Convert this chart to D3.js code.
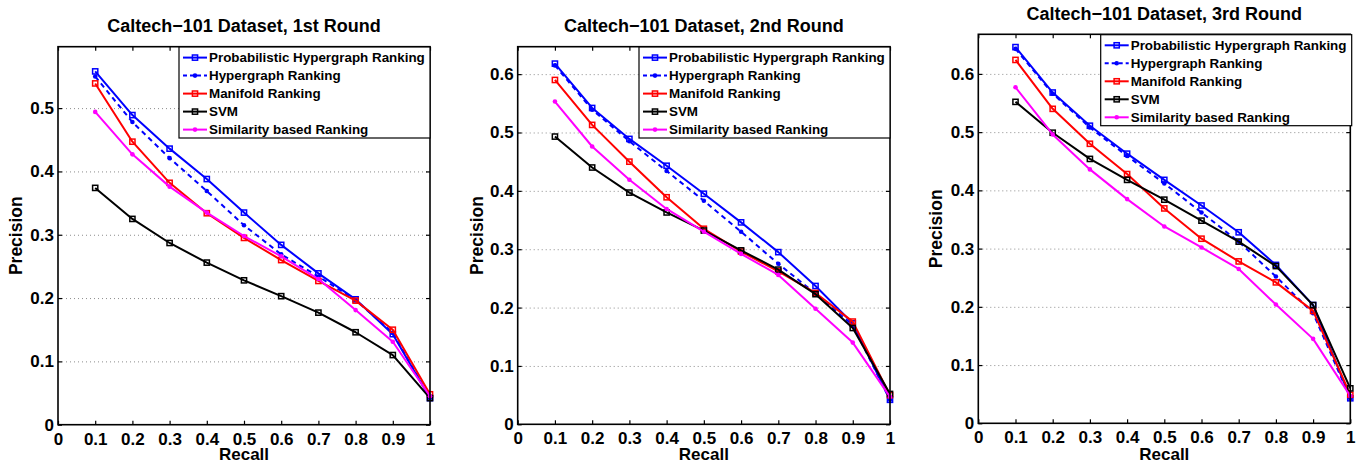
<!DOCTYPE html>
<html>
<head>
<meta charset="utf-8">
<script src="https://cdn.jsdelivr.net/npm/d3@7"></script>
<style>
  html, body { margin: 0; padding: 0; background: #fff; }
  svg { display: block; font-family: "Liberation Sans", Arial, Helvetica, sans-serif; font-weight: bold; }
</style>
</head>
<body>
<svg id="chart" width="1366" height="461"></svg>
<script>
const recall = [0.1, 0.2, 0.3, 0.4, 0.5, 0.6, 0.7, 0.8, 0.9, 1.0];
const methods = ["Probabilistic Hypergraph Ranking", "Hypergraph Ranking", "Manifold Ranking", "SVM", "Similarity based Ranking"];
const titles = ["Caltech\u2212101 Dataset, 1st Round", "Caltech\u2212101 Dataset, 2nd Round", "Caltech\u2212101 Dataset, 3rd Round"];
const xTicks = [0, 0.1, 0.2, 0.3, 0.4, 0.5, 0.6, 0.7, 0.8, 0.9, 1];
const yTicks1 = [0, 0.1, 0.2, 0.3, 0.4, 0.5];
const yTicks23 = [0, 0.1, 0.2, 0.3, 0.4, 0.5, 0.6];
const yMax = [0.597, 0.647, 0.668];

// round 1
const phr1 = [0.558, 0.489, 0.436, 0.388, 0.335, 0.284, 0.239, 0.198, 0.143, 0.042];
const hr1 = [0.550, 0.478, 0.421, 0.369, 0.315, 0.269, 0.234, 0.197, 0.145, 0.042];
const mr1 = [0.539, 0.447, 0.382, 0.334, 0.295, 0.260, 0.227, 0.196, 0.150, 0.048];
const svm1 = [0.374, 0.325, 0.287, 0.256, 0.228, 0.203, 0.177, 0.146, 0.110, 0.042];
const sbr1 = [0.494, 0.427, 0.376, 0.335, 0.298, 0.266, 0.230, 0.181, 0.131, 0.045];
// round 2
const phr2 = [0.618, 0.542, 0.489, 0.443, 0.395, 0.346, 0.295, 0.237, 0.173, 0.042];
const hr2 = [0.615, 0.539, 0.485, 0.434, 0.383, 0.330, 0.275, 0.224, 0.170, 0.042];
const mr2 = [0.590, 0.513, 0.450, 0.389, 0.335, 0.296, 0.262, 0.225, 0.176, 0.050];
const svm2 = [0.493, 0.440, 0.397, 0.363, 0.332, 0.298, 0.265, 0.223, 0.165, 0.052];
const sbr2 = [0.553, 0.476, 0.419, 0.369, 0.330, 0.292, 0.256, 0.198, 0.140, 0.047];
// round 3
const phr3 = [0.646, 0.568, 0.511, 0.463, 0.418, 0.374, 0.328, 0.272, 0.203, 0.043];
const hr3 = [0.643, 0.566, 0.508, 0.459, 0.412, 0.362, 0.312, 0.252, 0.189, 0.043];
const mr3 = [0.624, 0.540, 0.480, 0.428, 0.369, 0.317, 0.278, 0.242, 0.193, 0.049];
const svm3 = [0.552, 0.499, 0.454, 0.418, 0.384, 0.348, 0.312, 0.270, 0.203, 0.060];
const sbr3 = [0.577, 0.496, 0.436, 0.385, 0.338, 0.302, 0.265, 0.204, 0.145, 0.047];

const styles = [
  { color: "#0000ff", dash: null, marker: "square" },
  { color: "#0000ff", dash: "5,4", marker: "dot" },
  { color: "#ff0000", dash: null, marker: "square" },
  { color: "#000000", dash: null, marker: "square" },
  { color: "#ff00ff", dash: null, marker: "dot" },
];

// box = [left, top, right, bottom] in page pixels, labelX = centre of the "Precision" label
const panels = [
  { box: [58, 46.7, 430, 424.7], titleY: 32, labelX: 16, series: [phr1, hr1, mr1, svm1, sbr1], yTicks: yTicks1 },
  { box: [517.7, 46.7, 890, 424.3], titleY: 32, labelX: 477, series: [phr2, hr2, mr2, svm2, sbr2], yTicks: yTicks23 },
  { box: [978.3, 34.3, 1350.3, 423.3], titleY: 20, labelX: 936, series: [phr3, hr3, mr3, svm3, sbr3], yTicks: yTicks23 },
];

const svg = d3.select("#chart");
const fmt = (d) => (d === 0 ? "0" : d === 1 ? "1" : d3.format(".1f")(d));

function drawMarker(g, st, cx, cy) {
  if (st.marker === "square") {
    g.append("rect").attr("x", cx - 2.6).attr("y", cy - 2.6).attr("width", 5.2).attr("height", 5.2)
      .attr("fill", "none").attr("stroke", st.color).attr("stroke-width", 1.5);
  } else {
    g.append("circle").attr("cx", cx).attr("cy", cy).attr("r", 2.3).attr("fill", st.color);
  }
}

panels.forEach((p, pi) => {
  const [x0, y0, x1, y1] = p.box;
  const w = x1 - x0, h = y1 - y0;
  const x = d3.scaleLinear().domain([0, 1]).range([0, w]);
  const y = d3.scaleLinear().domain([0, yMax[pi]]).range([h, 0]);
  const g = svg.append("g").attr("transform", `translate(${x0},${y0})`);

  // dotted y grid
  g.append("g").call(d3.axisLeft(y).tickValues(p.yTicks.filter((d) => d > 0)).tickSize(-w).tickFormat(""))
    .call((s) => s.select(".domain").remove())
    .call((s) => s.selectAll("line").attr("stroke", "#8c8c8c").attr("stroke-width", 1).attr("stroke-dasharray", "1,3"));

  // series
  const line = d3.line().x((d, i) => x(recall[i])).y((d) => y(d));
  p.series.forEach((vals, si) => {
    const st = styles[si];
    const sg = g.append("g");
    sg.append("path").datum(vals).attr("d", line).attr("fill", "none")
      .attr("stroke", st.color).attr("stroke-width", 2)
      .attr("stroke-dasharray", st.dash).attr("stroke-linejoin", "round");
    vals.forEach((v, i) => drawMarker(sg, st, x(recall[i]), y(v)));
  });

  // axes with inward ticks
  const axStyle = (s) => {
    s.select(".domain").remove();
    s.selectAll("line").attr("stroke", "#000").attr("stroke-width", 1.2);
    s.selectAll("text").attr("font-size", 17).attr("font-weight", "bold").attr("fill", "#000")
      .attr("font-family", "'Liberation Sans', Arial, sans-serif");
  };
  g.append("g").attr("transform", `translate(0,${h})`)
    .call(d3.axisBottom(x).tickValues(xTicks).tickSize(-4).tickPadding(8).tickFormat(fmt)).call(axStyle);
  g.append("g").call(d3.axisTop(x).tickValues(xTicks).tickSize(-4).tickFormat("")).call(axStyle);
  g.append("g")
    .call(d3.axisLeft(y).tickValues(p.yTicks).tickSize(-4).tickPadding(4).tickFormat(fmt)).call(axStyle);
  g.append("g").attr("transform", `translate(${w},0)`)
    .call(d3.axisRight(y).tickValues(p.yTicks).tickSize(-4).tickFormat("")).call(axStyle);
  g.append("rect").attr("width", w).attr("height", h).attr("fill", "none")
    .attr("stroke", "#000").attr("stroke-width", 1.6);

  // labels
  g.append("text").attr("x", w / 2).attr("y", p.titleY - y0).attr("text-anchor", "middle")
    .attr("font-size", 18).text(titles[pi]);
  g.append("text").attr("x", w / 2).attr("y", 460 - y0).attr("text-anchor", "middle")
    .attr("font-size", 17).text("Recall");
  g.append("text").attr("transform", `translate(${p.labelX - x0},${h / 2}) rotate(-90)`)
    .attr("text-anchor", "middle").attr("dy", "0.35em").attr("font-size", 17.5).text("Precision");

  // legend
  const lw = 251, lh = 91;
  const lg = g.append("g").attr("transform", `translate(${w - lw + (pi === 2 ? 1.4 : 0)},${pi === 2 ? 0.4 : 0.3})`);
  lg.append("rect").attr("width", lw).attr("height", lh).attr("fill", "#fff")
    .attr("stroke", "#000").attr("stroke-width", 1.2);
  methods.forEach((m, i) => {
    const st = styles[i];
    const cy = 10.6 + i * 18;
    lg.append("line").attr("x1", 4).attr("x2", 28).attr("y1", cy).attr("y2", cy)
      .attr("stroke", st.color).attr("stroke-width", 2).attr("stroke-dasharray", st.dash ? "4,3" : null);
    drawMarker(lg, st, 16, cy);
    lg.append("text").attr("x", 30).attr("y", cy).attr("dy", "0.36em")
      .attr("font-size", 13.4).text(m);
  });
});
</script>
</body>
</html>
